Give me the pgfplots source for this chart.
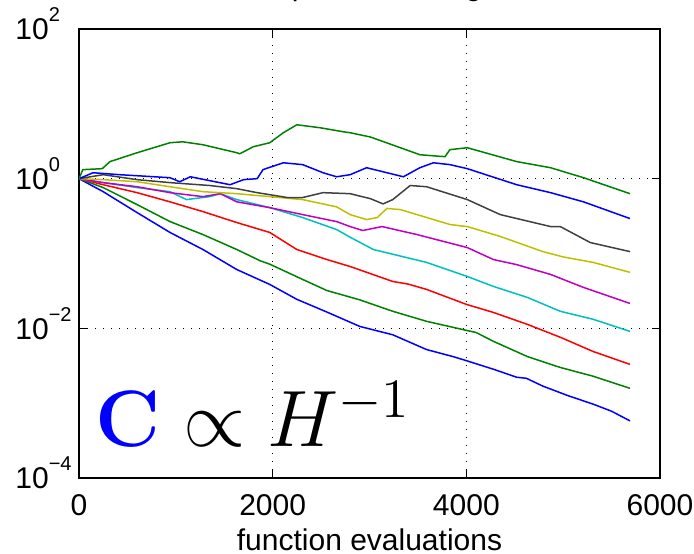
\documentclass[border=0pt]{standalone}
\usepackage[no-math]{fontspec}
\setmainfont{Liberation Sans}
\usepackage{pgfplots}
\pgfplotsset{compat=1.18}
\newcommand{\ep}[1]{10\raisebox{0.6em}{\fontsize{10}{10}\selectfont #1}}
\definecolor{mgreen}{rgb}{0,0.5,0}
\definecolor{mcyan}{rgb}{0,0.75,0.75}
\definecolor{mmag}{rgb}{0.75,0,0.75}
\definecolor{myel}{rgb}{0.75,0.75,0}
\definecolor{mgray}{rgb}{0.25,0.25,0.25}
\begin{document}
\begin{tikzpicture}
\begin{axis}[
  at={(0,0)}, anchor=south west,
  scale only axis, width=290.5pt, height=224.5pt,
  ymode=log, xmin=0, xmax=6000, ymin=1e-4, ymax=1e2,
  xtick={0,2000,4000,6000}, xticklabels={0,2000,4000,6000},
  ytick={1e-4,1e-2,1,1e2},
  yticklabels={\ep{−4},\ep{−2},\ep{0},\ep{2}},
  yminorticks=false, xminorticks=false,
  tick align=inside, major tick length=4pt,
  tick style={black, line width=0.6pt},
  axis line style={line width=0.75pt},
  grid=major, grid style={black, line width=0.6pt, dash pattern=on 0.6pt off 3.4pt},
  ticklabel style={font=\fontsize{15}{18}\selectfont},
  xticklabel style={anchor=base, inner sep=0pt, yshift=-18.5pt},
  yticklabel style={anchor=base west, inner sep=0pt, xshift=-32pt, yshift=-5.5pt},
  xlabel={function evaluations},
  xlabel style={font=\fontsize{15}{18}\selectfont, at={(0.5,0)}, anchor=base, inner sep=0pt, yshift=-36pt},
  title={Principle Axes Lengths},
  title style={font=\fontsize{15}{18}\selectfont, at={(0.5,1)}, anchor=base, inner sep=0pt, yshift=10.5pt},
  every axis plot/.append style={line width=0.75pt},
]
% blue (lowest)
\addplot[blue] coordinates {(0,1.0) (250,0.67) (600,0.352) (940,0.191) (1280,0.113) (1630,0.061) (1970,0.0386) (2250,0.0244) (2560,0.0165) (2900,0.0106) (3240,0.0082) (3590,0.0052) (3860,0.0042) (4000,0.0037) (4280,0.00284) (4520,0.00222) (4620,0.00215) (4790,0.00169) (5050,0.00126) (5310,0.00097) (5500,0.00078) (5690,0.00058)};
% green
\addplot[mgreen] coordinates {(0,1.0) (250,0.76) (600,0.45) (940,0.267) (1280,0.179) (1630,0.113) (1870,0.08) (1970,0.072) (2310,0.045) (2560,0.032) (2900,0.024) (3240,0.0169) (3590,0.0124) (4000,0.0094) (4100,0.0088) (4280,0.0067) (4630,0.0042) (4970,0.0030) (5310,0.00229) (5500,0.0019) (5690,0.00158)};
% red
\addplot[red] coordinates {(0,1.0) (250,0.83) (600,0.65) (940,0.49) (1280,0.363) (1630,0.259) (1970,0.191) (2250,0.113) (2560,0.083) (2800,0.067) (3240,0.0423) (3400,0.039) (3590,0.0331) (4000,0.0209) (4280,0.0163) (4630,0.0113) (4970,0.0076) (5310,0.0049) (5690,0.0033)};
% cyan
\addplot[mcyan] coordinates {(0,1.0) (250,0.885) (600,0.76) (940,0.67) (1110,0.525) (1350,0.575) (1460,0.63) (1630,0.525) (1970,0.41) (2310,0.302) (2660,0.209) (2800,0.165) (3040,0.113) (3590,0.076) (4010,0.0493) (4280,0.0363) (4630,0.0259) (4970,0.0169) (5310,0.0132) (5690,0.0091)};
% magenta
\addplot[mmag] coordinates {(0,1.0) (250,0.885) (600,0.78) (940,0.65) (1280,0.575) (1460,0.63) (1630,0.49) (1970,0.41) (2310,0.331) (2660,0.267) (2800,0.229) (2930,0.203) (3130,0.229) (3490,0.179) (4010,0.120) (4280,0.083) (4520,0.071) (4870,0.0525) (5210,0.0352) (5690,0.0215)};
% yellow
\addplot[myel] coordinates {(0,1.0) (250,0.97) (600,0.91) (940,0.78) (1280,0.67) (1630,0.63) (1970,0.575) (2310,0.525) (2660,0.42) (2800,0.331) (2970,0.284) (3080,0.302) (3180,0.40) (3320,0.386) (3830,0.244) (4010,0.229) (4350,0.169) (4790,0.106) (5000,0.09) (5310,0.076) (5690,0.056)};
% gray
\addplot[mgray] coordinates {(0,1.0) (250,1.13) (600,0.97) (940,0.885) (1350,0.81) (1630,0.735) (1840,0.65) (2150,0.56) (2310,0.56) (2520,0.65) (2800,0.63) (3010,0.54) (3140,0.46) (3240,0.525) (3420,0.81) (3590,0.78) (4010,0.525) (4350,0.331) (4870,0.229) (4970,0.229) (5280,0.140) (5690,0.106)};
% blue (upper)
\addplot[blue] coordinates {(0,1.0) (145,1.20) (420,1.13) (940,1.03) (1040,0.91) (1150,1.06) (1560,0.83) (1700,0.97) (1840,1.0) (1900,1.32) (2110,1.63) (2310,1.54) (2520,1.20) (2660,1.06) (2800,1.13) (2970,1.40) (3350,1.06) (3520,1.40) (3660,1.63) (3830,1.54) (4010,1.36) (4520,0.83) (4870,0.65) (5210,0.49) (5690,0.293)};
% green (upper)
\addplot[mgreen] coordinates {(0,1.0) (40,1.32) (240,1.36) (320,1.69) (600,2.22) (940,3.02) (1070,3.11) (1280,2.84) (1630,2.22) (1660,2.15) (1800,2.67) (1970,3.02) (2110,4.11) (2250,5.25) (2490,4.79) (2730,4.23) (2800,4.11) (3010,3.6) (3520,2.09) (3700,2.0) (3780,1.97) (3830,2.44) (4010,2.59) (4520,1.69) (4870,1.40) (5210,1.03) (5690,0.63)};
\node[anchor=base west, inner sep=0pt, scale=2.315, font=\fontsize{17.28}{19}\selectfont]
  at ([xshift=8pt,yshift=15.5pt]rel axis cs:0,0) {$\mathbf{\color{blue}C}\propto H^{-1}$};
\end{axis}
\pgfresetboundingbox
\path ([xshift=-39.5pt,yshift=-38pt]current axis.south west) rectangle ([xshift=17pt,yshift=14.5pt]current axis.north east);
\end{tikzpicture}
\end{document}
